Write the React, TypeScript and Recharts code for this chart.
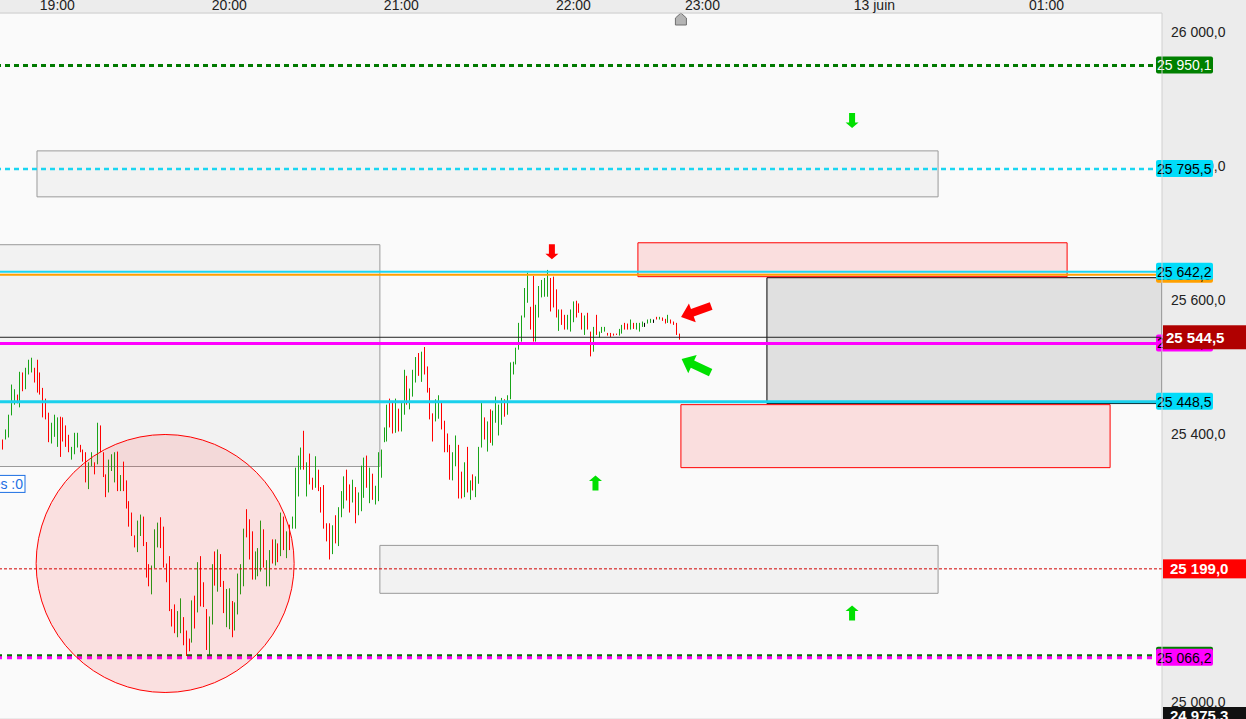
import React from "react";
import {
  ComposedChart,
  Bar,
  XAxis,
  YAxis,
  CartesianGrid,
  ReferenceLine,
  ReferenceArea,
  ReferenceDot,
} from "recharts";

// one bar per minute, bar 1 = 18:41 (pause 22:00-22:15)
const highs = [
  25392, 25407, 25429, 25474, 25467, 25459, 25493, 25492, 25499, 25511,
  25514, 25499, 25511, 25492, 25469, 25453, 25432, 25417, 25429, 25425,
  25426, 25425, 25413, 25399, 25381, 25402, 25402, 25384, 25377, 25373,
  25358, 25373, 25358, 25417, 25413, 25373, 25340, 25362, 25370, 25373,
  25374, 25339, 25359, 25331, 25300, 25283, 25249, 25271, 25280, 25277,
  25239, 25206, 25204, 25258, 25268, 25276, 25262, 25207, 25218, 25139,
  25146, 25136, 25155, 25127, 25107, 25095, 25152, 25159, 25209, 25218,
  25179, 25139, 25128, 25206, 25225, 25228, 25221, 25181, 25169, 25170,
  25151, 25149, 25192, 25206, 25259, 25288, 25273, 25255, 25225, 25230,
  25271, 25258, 25212, 25227, 25243, 25243, 25237, 25283, 25277, 25255,
  25265, 25277, 25350, 25368, 25380, 25405, 25358, 25371, 25335, 25367,
  25347, 25321, 25324, 25267, 25267, 25264, 25279, 25291, 25315, 25337,
  25347, 25325, 25332, 25321, 25313, 25353, 25365, 25368, 25350, 25341,
  25323, 25373, 25377, 25410, 25444, 25453, 25447, 25453, 25438, 25447,
  25496, 25487, 25468, 25496, 25515, 25521, 25523, 25530, 25501, 25469,
  25431, 25452, 25458, 25447, 25420, 25401, 25384, 25373, 25398, 25384,
  25344, 25358, 25381, 25331, 25340, 25337, 25381, 25447, 25425, 25419,
  25437, 25435, 25456, 25444, 25454, 25452, 25458, 25507, 25508, 25529,
  25566, 25577, 25618, 25641, 25590, 25636, 25593, 25621, 25630, 25633,
  25645, 25633, 25635, 25616, 25586, 25586, 25578, 25578, 25586, 25598,
  25599, 25595, 25581, 25577, 25581, 25553, 25560, 25578, 25553, 25560,
  25560, 25551, 25551, 25550, 25550, 25557, 25563, 25566, 25565, 25571,
  25566, 25566, 25566, 25568, 25566, 25571, 25572, 25571, 25575, 25575,
  25574, 25572, 25578, 25571, 25568, 25566, 25550,
];

const lows = [
  25377, 25392, 25395, 25428, 25444, 25446, 25440, 25464, 25467, 25489,
  25492, 25477, 25462, 25459, 25425, 25422, 25388, 25386, 25396, 25381,
  25366, 25389, 25381, 25373, 25362, 25370, 25380, 25373, 25359, 25328,
  25318, 25352, 25340, 25355, 25373, 25336, 25306, 25313, 25345, 25328,
  25315, 25315, 25315, 25289, 25262, 25248, 25231, 25224, 25248, 25233,
  25186, 25173, 25161, 25200, 25231, 25230, 25201, 25179, 25136, 25113,
  25103, 25097, 25103, 25085, 25069, 25076, 25089, 25110, 25134, 25143,
  25142, 25078, 25069, 25116, 25174, 25165, 25172, 25133, 25112, 25109,
  25097, 25107, 25131, 25161, 25173, 25246, 25213, 25183, 25183, 25188,
  25195, 25201, 25173, 25173, 25207, 25204, 25209, 25218, 25227, 25215,
  25227, 25259, 25259, 25307, 25347, 25347, 25307, 25325, 25317, 25320,
  25315, 25283, 25259, 25240, 25213, 25221, 25237, 25233, 25276, 25289,
  25301, 25283, 25298, 25267, 25279, 25285, 25305, 25320, 25297, 25302,
  25295, 25300, 25335, 25388, 25389, 25410, 25401, 25402, 25404, 25404,
  25429, 25444, 25437, 25456, 25477, 25487, 25478, 25489, 25462, 25422,
  25389, 25419, 25423, 25407, 25373, 25373, 25332, 25331, 25352, 25304,
  25304, 25306, 25313, 25302, 25316, 25306, 25326, 25380, 25392, 25374,
  25387, 25383, 25417, 25398, 25414, 25426, 25429, 25452, 25489, 25504,
  25526, 25538, 25574, 25596, 25556, 25538, 25538, 25574, 25604, 25605,
  25605, 25583, 25589, 25574, 25554, 25563, 25556, 25556, 25553, 25567,
  25574, 25581, 25556, 25548, 25556, 25516, 25523, 25548, 25544, 25551,
  25553, 25547, 25545, 25547, 25548, 25547, 25550, 25556, 25556, 25556,
  25557, 25556, 25553, 25560, 25560, 25565, 25566, 25566, 25571, 25571,
  25569, 25565, 25566, 25565, 25563, 25548, 25541,
];

// u = up bar, d = down bar, k = doji
const dirs = (
  "duuuududuu" + "udddddduuu" + "dddduuuddd" + "uududdduuu" + "duddddduud" +
  "dduuuddddd" + "duudddudud" + "dduududduu" + "duuuuddduu" + "uduudududu" +
  "duuuududdu" + "ddddduduuu" + "dduduuudud" + "uuuuuddudu" + "uduuududdd" +
  "duudddduud" + "dududuuudu" + "duuuuduuuu" + "uuuudduuuu" + "udddudduuu" +
  "dddudduduu" + "udddduuddu" + "duuukuukdu" + "ddudddd"
).split("");

const timeTicks = [20, 80, 140, 200, 245, 305, 365];
const timeLabels = ["19:00", "20:00", "21:00", "22:00", "23:00", "13 juin", "01:00"];
const priceTicks = [25000, 25200, 25400, 25600, 25800, 26000];

const lastPrice = 25544.5;
const lowPrice = 24975.3;
const stopPrice = 25199.0;
const targetHigh = 25950.1;
const targetMid = 25795.5;
const resistance = 25642.2;
const resistance2 = 25637.9;
const pivot = 25535.4;
const support = 25448.5;
const targetLowA = 25069.5;
const targetLowB = 25066.2;
const nowBar = 237.5;

const greyZones = [
  { t1: 12.9, t2: 327.2, p1: 25754, p2: 25822.6 },
  { t1: -3, t2: 132.5, p1: 25351.7, p2: 25682.6 },
  { t1: 132.5, t2: 327.2, p1: 25162.5, p2: 25234 },
];
const darkZone = { t1: 267.5, t2: 405.3, p1: 25445.6, p2: 25633.4 };
const pinkZones = [
  { t1: 222.5, t2: 372.2, p1: 25634.9, p2: 25685.5 },
  { t1: 237.5, t2: 387.2, p1: 25350, p2: 25444 },
];
const circleSpot = { t: 57.6, p: 25207 };
const downArrows = [
  { t: 192.5, p: 25672, c: "#ff0000" },
  { t: 297.2, p: 25868, c: "#00e000" },
];
const upArrows = [
  { t: 207.7, p: 25327, c: "#00e000" },
  { t: 297.2, p: 25133, c: "#00e000" },
];
const bigArrows = [
  { t: 242.8, p: 25583, c: "#ff0000", a: -20 },
  { t: 242.8, p: 25502, c: "#00e000", a: 25 },
];

const X_MAX = 405.3;
const Y_MIN = 24975;
const Y_MAX = 26028.3;

const fmt = (v: number) =>
  v.toFixed(1).replace(".", ",").replace(/\B(?=(\d{3})+(?!\d))/g, " ");

const colorOf = (d: string) => (d === "u" ? "#18a418" : d === "d" ? "#ff0000" : "#000000");

function Candle(p: any) {
  const { x, y, width, height, payload } = p;
  const top = Math.min(y, y + height);
  const h = Math.max(1, Math.abs(height));
  const cx = Math.round(x + width / 2 - 0.5);
  return <rect x={cx} y={top} width={1} height={h} fill={colorOf(payload?.d)} />;
}

// price axis text, drawn as a label so that the tags can cover it
function TickText(props: any) {
  const vb = props.viewBox;
  if (!vb) return null;
  return (
    <text x={vb.x + vb.width + 9} y={vb.y + 5} fontSize={14} fill="#222">
      {props.tag}
    </text>
  );
}

function SideTag(props: any) {
  const vb = props.viewBox;
  if (!vb) return null;
  const x = vb.x + vb.width - 6;
  const y = vb.y;
  return (
    <g>
      <rect x={x} y={y - 9} width={57} height={17} rx={2} fill={props.bg} />
      <text x={x + 1} y={y + 5} fontSize={14} fill={props.fg || "#000"}>
        {props.tag}
      </text>
    </g>
  );
}

function AxisTag(props: any) {
  const vb = props.viewBox;
  if (!vb) return null;
  const x = vb.x + vb.width + 1;
  const top = Math.min(vb.y - props.h / 2, 707);
  return (
    <g>
      <rect x={x} y={top} width={83} height={props.h} fill={props.bg} />
      <text x={x + props.dx} y={top + props.h / 2 + 5.5} fontSize={15} fontWeight="bold" fill="#fff">
        {props.tag}
      </text>
    </g>
  );
}

function NowMarker(props: any) {
  const vb = props.viewBox;
  if (!vb) return null;
  const x = vb.x;
  const y = Math.min(vb.y, vb.y + (vb.height || 0));
  return (
    <polygon
      points={`${x - 5.5},${y + 12} ${x + 5.5},${y + 12} ${x + 5.5},${y + 5} ${x},${y} ${x - 5.5},${y + 5}`}
      fill="#b4b4b4"
      stroke="#707070"
      strokeWidth={1}
    />
  );
}

function smallArrow(cx: number, cy: number, color: string, down: boolean) {
  const s = down ? 1 : -1;
  const pts = [
    [-3, -7.5], [3, -7.5], [3, 2], [6.5, 2], [0, 7.5], [-6.5, 2], [-3, 2],
  ]
    .map(([a, b]) => `${cx + a},${cy + s * b}`)
    .join(" ");
  return <polygon points={pts} fill={color} />;
}

function bigArrow(cx: number, cy: number, color: string, angle: number) {
  const pts = "-16,0 -4,-10 -4,-4 16,-4 16,4 -4,4 -4,10";
  return (
    <polygon
      points={pts}
      fill={color}
      transform={`translate(${cx},${cy}) rotate(${angle})`}
    />
  );
}

export default function App() {
  const candles = highs.map((h, k) => ({ t: k + 1, r: [lows[k], h], d: dirs[k] }));
  return (
    <div
      style={{
        width: 1246,
        height: 719,
        background: "#ececec",
        fontFamily: "'Liberation Sans', Arial, sans-serif",
        overflow: "hidden",
      }}
    >
      <style>{"body{margin:0}"}</style>
      <ComposedChart width={1246} height={719} data={candles} margin={{ top: 0, right: 0, bottom: 0, left: 0 }}>
        <CartesianGrid vertical={false} stroke="#dcdcdc" fill="#fafafa" />
        <XAxis
          dataKey="t"
          type="number"
          orientation="top"
          domain={[0, X_MAX]}
          allowDataOverflow
          ticks={timeTicks}
          interval={0}
          tickFormatter={(v) => timeLabels[timeTicks.indexOf(v)]}
          height={13}
          tickLine={false}
          tickSize={0}
          tickMargin={3}
          axisLine={{ stroke: "#d6d6d6" }}
          tick={{ fill: "#222", fontSize: 14 }}
        />
        <YAxis
          orientation="right"
          type="number"
          domain={[Y_MIN, Y_MAX]}
          allowDataOverflow
          ticks={priceTicks}
          interval={0}
          width={84}
          tick={false}
          tickLine={false}
          axisLine={{ stroke: "#d0d0d0" }}
        />

        {greyZones.map((z, i) => (
          <ReferenceArea
            key={"g" + i}
            x1={z.t1}
            x2={z.t2}
            y1={z.p1}
            y2={z.p2}
            ifOverflow="hidden"
            fill="#000000"
            fillOpacity={0.03}
            stroke="#9a9a9a"
            strokeWidth={1}
          />
        ))}
        <ReferenceArea
          x1={darkZone.t1}
          x2={darkZone.t2}
          y1={darkZone.p1}
          y2={darkZone.p2}
          ifOverflow="hidden"
          fill="#000000"
          fillOpacity={0.1}
          stroke="#000000"
          strokeWidth={1}
        />
        {pinkZones.map((z, i) => (
          <ReferenceArea
            key={"p" + i}
            x1={z.t1}
            x2={z.t2}
            y1={z.p1}
            y2={z.p2}
            ifOverflow="hidden"
            fill="#ff0000"
            fillOpacity={0.11}
            stroke="#ff0000"
            strokeWidth={1}
          />
        ))}
        <ReferenceDot
          x={circleSpot.t}
          y={circleSpot.p}
          r={129}
          fill="#ff0000"
          fillOpacity={0.1}
          stroke="#ff0000"
          strokeWidth={1}
          ifOverflow="visible"
        />

        <Bar dataKey="r" isAnimationActive={false} shape={(p: any) => <Candle {...p} />} />

        {priceTicks.map((v) => (
          <ReferenceLine key={"tk" + v} y={v} stroke="none" label={<TickText tag={fmt(v)} />} />
        ))}

        <ReferenceLine y={targetHigh} stroke="#007a00" strokeWidth={3} strokeDasharray="5 4"
          label={<SideTag tag={fmt(targetHigh)} bg="#008000" fg="#fff" />} />
        <ReferenceLine y={targetMid} stroke="#1ad6f2" strokeWidth={2.5} strokeDasharray="5 4"
          label={<SideTag tag={fmt(targetMid)} bg="#00dcfa" />} />
        <ReferenceLine y={resistance2} stroke="#ffa000" strokeWidth={2}
          label={<SideTag tag={fmt(resistance2)} bg="#ffa000" />} />
        <ReferenceLine y={resistance} stroke="#1ad6f2" strokeWidth={2}
          label={<SideTag tag={fmt(resistance)} bg="#00dcfa" />} />
        <ReferenceLine y={pivot} stroke="#ff00ff" strokeWidth={3}
          label={<SideTag tag={fmt(pivot)} bg="#ff00ff" />} />
        <ReferenceLine y={lastPrice} stroke="#222" strokeWidth={1}
          label={<AxisTag tag={fmt(lastPrice)} bg="#b00000" h={24} dx={3} />} />
        <ReferenceLine y={support} stroke="#1ad0ec" strokeWidth={3}
          label={<SideTag tag={fmt(support)} bg="#00dcfa" />} />
        <ReferenceLine y={stopPrice} stroke="#d00000" strokeWidth={1} strokeDasharray="3 2"
          label={<AxisTag tag={fmt(stopPrice)} bg="#ff0000" h={19} dx={7} />} />
        <ReferenceLine y={targetLowA} stroke="#007a00" strokeWidth={3} strokeDasharray="5 5"
          label={<SideTag tag={fmt(targetLowA)} bg="#008000" fg="#fff" />} />
        <ReferenceLine y={targetLowB} stroke="#ff00ff" strokeWidth={3} strokeDasharray="5 5"
          label={<SideTag tag={fmt(targetLowB)} bg="#ff00ff" />} />
        <ReferenceLine y={lowPrice} stroke="none" ifOverflow="visible"
          label={<AxisTag tag={fmt(lowPrice)} bg="#111" h={16} dx={7} />} />
        <ReferenceLine x={nowBar} stroke="none" label={<NowMarker />} />

        {downArrows.map((a, i) => (
          <ReferenceDot key={"da" + i} x={a.t} y={a.p} r={8} ifOverflow="visible"
            shape={(p: any) => smallArrow(p.cx, p.cy, a.c, true)} />
        ))}
        {upArrows.map((a, i) => (
          <ReferenceDot key={"ua" + i} x={a.t} y={a.p} r={8} ifOverflow="visible"
            shape={(p: any) => smallArrow(p.cx, p.cy, a.c, false)} />
        ))}
        {bigArrows.map((a, i) => (
          <ReferenceDot key={"ba" + i} x={a.t} y={a.p} r={16} ifOverflow="visible"
            shape={(p: any) => bigArrow(p.cx, p.cy, a.c, a.a)} />
        ))}
        <ReferenceDot x={0} y={25325} r={8} ifOverflow="visible"
          shape={(p: any) => (
            <g>
              <rect x={p.cx - 60} y={p.cy - 9} width={85} height={17} fill="#fff" stroke="#1c6fe3" />
              <text x={p.cx + 23} y={p.cy + 5} fontSize={14} textAnchor="end" fill="#1c6fe3">Ventes :0</text>
            </g>
          )} />
      </ComposedChart>
    </div>
  );
}
